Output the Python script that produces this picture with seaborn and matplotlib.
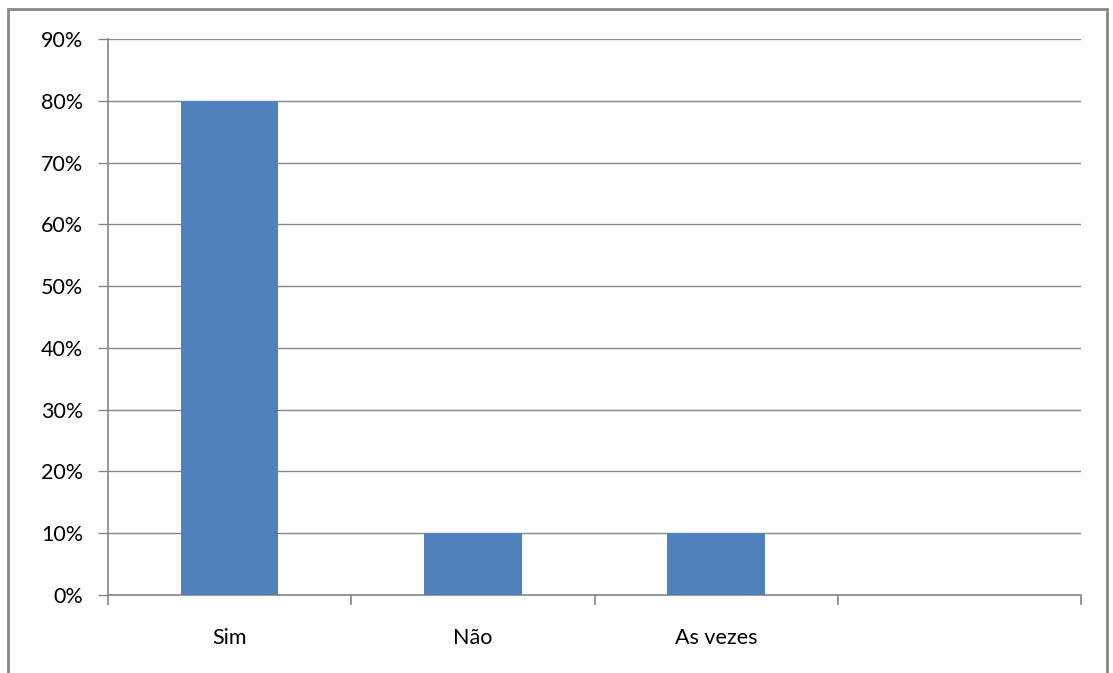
import numpy as np
import pandas as pd
import matplotlib
matplotlib.use("Agg")
import matplotlib.pyplot as plt
from matplotlib.patches import Rectangle
from matplotlib.ticker import FixedLocator, PercentFormatter
import seaborn as sns

categories = ["Sim", "Não", "As vezes"]
values = [0.80, 0.10, 0.10]
y_ticks = [0.0, 0.1, 0.2, 0.3, 0.4, 0.5, 0.6, 0.7, 0.8, 0.9]

sns.set_theme(style="white")
plt.rcParams["font.family"] = ["Lato", "DejaVu Sans"]

grid_color = "#868686"
bar_color = "#4F81BD"

df = pd.DataFrame({"categoria": categories, "valor": values})

fig = plt.figure(figsize=(11.13, 6.73), dpi=100)
ax = fig.add_axes([108 / 1113, 1 - 595 / 673, (1081 - 108) / 1113, (595 - 39) / 673])

sns.barplot(data=df, x="categoria", y="valor", color=bar_color, width=0.40,
            saturation=1, linewidth=0, edgecolor="none", ax=ax, zorder=3)

n_slots = 4
ax.set_xlim(-0.5, n_slots - 0.5)
ax.set_ylim(0, 0.9)
ax.set_yticks(y_ticks)
ax.yaxis.set_major_formatter(PercentFormatter(1.0, decimals=0))
ax.set_xlabel("")
ax.set_ylabel("")

# horizontal gridlines
ax.grid(axis="y", color=grid_color, linewidth=1.0, zorder=0)
ax.grid(axis="x", visible=False)
ax.set_axisbelow(True)

# spines: left and bottom only
for side in ["top", "right"]:
    ax.spines[side].set_visible(False)
for side in ["left", "bottom"]:
    ax.spines[side].set_color(grid_color)
    ax.spines[side].set_linewidth(1.2)

# category boundary ticks on x, labels centred in slots
ax.xaxis.set_minor_locator(FixedLocator(np.arange(-0.5, n_slots, 1.0)))
ax.tick_params(axis="x", which="major", length=0, pad=24, labelsize=15.5, labelcolor="black")
ax.tick_params(axis="x", which="minor", length=7, width=1.2, color=grid_color, direction="out", bottom=True)
ax.tick_params(axis="y", which="major", length=7, width=1.0, color=grid_color, direction="out",
               pad=11, labelsize=15.5, labelcolor="black", left=True)

# outer chart border
fig.patches.append(Rectangle((8 / 1113, -0.02), (1107 - 8) / 1113, 1.02 - 9 / 673,
                             transform=fig.transFigure, fill=False,
                             edgecolor="#878787", linewidth=2.0))

fig.savefig("out.png", dpi=100, facecolor="white")
